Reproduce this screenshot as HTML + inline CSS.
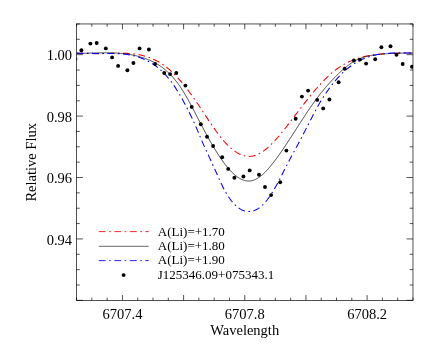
<!DOCTYPE html>
<html><head><meta charset="utf-8"><title>plot</title>
<style>
html,body{margin:0;padding:0;background:#fff;}
body{width:436px;height:349px;overflow:hidden;position:relative;font-family:"Liberation Serif",serif;color:#000;}
svg{position:absolute;left:0;top:0;}
text{font-family:"Liberation Serif",serif;fill:#000;}
</style></head><body>
<svg width="436" height="349" viewBox="0 0 436 349">
<defs><filter id="nf" x="0" y="0" width="436" height="349" filterUnits="userSpaceOnUse"><feOffset dx="0" dy="0"/></filter><clipPath id="c"><rect x="76.56" y="23.96" width="336.42" height="276.39"/></clipPath></defs>
<rect x="0" y="0" width="436" height="349" fill="#fff"/>

<g clip-path="url(#c)" fill="none">
<path d="M76.5,53.14 L77.5,53.16 L78.5,53.19 L79.5,53.22 L80.5,53.25 L81.5,53.28 L82.5,53.31 L83.5,53.34 L84.5,53.37 L85.5,53.41 L86.5,53.44 L87.5,53.47 L88.5,53.50 L89.5,53.52 L90.5,53.55 L91.5,53.57 L92.5,53.59 L93.5,53.61 L94.5,53.63 L95.5,53.64 L96.5,53.65 L97.5,53.65 L98.5,53.65 L99.5,53.65 L100.5,53.64 L101.5,53.63 L102.5,53.61 L103.5,53.59 L104.5,53.57 L105.5,53.54 L106.5,53.52 L107.5,53.49 L108.5,53.46 L109.5,53.43 L110.5,53.40 L111.5,53.37 L112.5,53.34 L113.5,53.31 L114.5,53.29 L115.5,53.26 L116.5,53.24 L117.5,53.23 L118.5,53.21 L119.5,53.21 L120.5,53.20 L121.5,53.21 L122.5,53.22 L123.5,53.23 L124.5,53.25 L125.5,53.28 L126.5,53.32 L127.5,53.37 L128.5,53.42 L129.5,53.49 L130.5,53.57 L131.5,53.65 L132.5,53.75 L133.5,53.86 L134.5,53.98 L135.5,54.11 L136.5,54.26 L137.5,54.42 L138.5,54.59 L139.5,54.78 L140.5,54.98 L141.5,55.20 L142.5,55.44 L143.5,55.69 L144.5,55.96 L145.5,56.24 L146.5,56.55 L147.5,56.87 L148.5,57.22 L149.5,57.58 L150.5,57.96 L151.5,58.36 L152.5,58.79 L153.5,59.23 L154.5,59.70 L155.5,60.19 L156.5,60.70 L157.5,61.24 L158.5,61.80 L159.5,62.39 L160.5,63.00 L161.5,63.63 L162.5,64.30 L163.5,64.99 L164.5,65.70 L165.5,66.45 L166.5,67.22 L167.5,68.02 L168.5,68.85 L169.5,69.71 L170.5,70.60 L171.5,71.51 L172.5,72.46 L173.5,73.43 L174.5,74.43 L175.5,75.45 L176.5,76.50 L177.5,77.58 L178.5,78.68 L179.5,79.80 L180.5,80.95 L181.5,82.12 L182.5,83.31 L183.5,84.53 L184.5,85.77 L185.5,87.02 L186.5,88.30 L187.5,89.60 L188.5,90.91 L189.5,92.25 L190.5,93.60 L191.5,94.97 L192.5,96.36 L193.5,97.77 L194.5,99.19 L195.5,100.62 L196.5,102.07 L197.5,103.54 L198.5,105.02 L199.5,106.51 L200.5,108.01 L201.5,109.51 L202.5,111.03 L203.5,112.54 L204.5,114.06 L205.5,115.58 L206.5,117.10 L207.5,118.61 L208.5,120.11 L209.5,121.61 L210.5,123.09 L211.5,124.57 L212.5,126.03 L213.5,127.47 L214.5,128.90 L215.5,130.31 L216.5,131.69 L217.5,133.05 L218.5,134.39 L219.5,135.70 L220.5,136.98 L221.5,138.22 L222.5,139.43 L223.5,140.61 L224.5,141.75 L225.5,142.85 L226.5,143.92 L227.5,144.95 L228.5,145.93 L229.5,146.88 L230.5,147.78 L231.5,148.65 L232.5,149.47 L233.5,150.25 L234.5,150.99 L235.5,151.68 L236.5,152.33 L237.5,152.93 L238.5,153.49 L239.5,154.00 L240.5,154.46 L241.5,154.88 L242.5,155.25 L243.5,155.56 L244.5,155.83 L245.5,156.05 L246.5,156.21 L247.5,156.33 L248.5,156.39 L249.5,156.40 L250.5,156.35 L251.5,156.26 L252.5,156.10 L253.5,155.89 L254.5,155.63 L255.5,155.31 L256.5,154.94 L257.5,154.52 L258.5,154.06 L259.5,153.54 L260.5,152.98 L261.5,152.38 L262.5,151.73 L263.5,151.04 L264.5,150.31 L265.5,149.54 L266.5,148.73 L267.5,147.89 L268.5,147.01 L269.5,146.09 L270.5,145.15 L271.5,144.17 L272.5,143.16 L273.5,142.13 L274.5,141.06 L275.5,139.97 L276.5,138.86 L277.5,137.73 L278.5,136.57 L279.5,135.39 L280.5,134.19 L281.5,132.98 L282.5,131.75 L283.5,130.50 L284.5,129.25 L285.5,127.97 L286.5,126.69 L287.5,125.40 L288.5,124.10 L289.5,122.80 L290.5,121.48 L291.5,120.17 L292.5,118.85 L293.5,117.53 L294.5,116.21 L295.5,114.89 L296.5,113.57 L297.5,112.26 L298.5,110.95 L299.5,109.64 L300.5,108.34 L301.5,107.04 L302.5,105.74 L303.5,104.45 L304.5,103.17 L305.5,101.90 L306.5,100.63 L307.5,99.37 L308.5,98.12 L309.5,96.88 L310.5,95.65 L311.5,94.44 L312.5,93.23 L313.5,92.03 L314.5,90.85 L315.5,89.68 L316.5,88.52 L317.5,87.38 L318.5,86.26 L319.5,85.15 L320.5,84.05 L321.5,82.98 L322.5,81.92 L323.5,80.88 L324.5,79.85 L325.5,78.85 L326.5,77.87 L327.5,76.90 L328.5,75.96 L329.5,75.04 L330.5,74.14 L331.5,73.27 L332.5,72.42 L333.5,71.59 L334.5,70.79 L335.5,70.01 L336.5,69.26 L337.5,68.53 L338.5,67.83 L339.5,67.15 L340.5,66.50 L341.5,65.86 L342.5,65.25 L343.5,64.66 L344.5,64.10 L345.5,63.55 L346.5,63.03 L347.5,62.52 L348.5,62.04 L349.5,61.57 L350.5,61.12 L351.5,60.69 L352.5,60.28 L353.5,59.88 L354.5,59.51 L355.5,59.14 L356.5,58.80 L357.5,58.47 L358.5,58.15 L359.5,57.85 L360.5,57.56 L361.5,57.29 L362.5,57.03 L363.5,56.78 L364.5,56.55 L365.5,56.32 L366.5,56.11 L367.5,55.91 L368.5,55.71 L369.5,55.53 L370.5,55.36 L371.5,55.19 L372.5,55.04 L373.5,54.89 L374.5,54.75 L375.5,54.62 L376.5,54.49 L377.5,54.37 L378.5,54.26 L379.5,54.16 L380.5,54.06 L381.5,53.96 L382.5,53.88 L383.5,53.79 L384.5,53.72 L385.5,53.65 L386.5,53.58 L387.5,53.52 L388.5,53.47 L389.5,53.42 L390.5,53.37 L391.5,53.33 L392.5,53.29 L393.5,53.25 L394.5,53.22 L395.5,53.19 L396.5,53.17 L397.5,53.15 L398.5,53.13 L399.5,53.11 L400.5,53.10 L401.5,53.09 L402.5,53.08 L403.5,53.07 L404.5,53.06 L405.5,53.06 L406.5,53.05 L407.5,53.05 L408.5,53.05 L409.5,53.05 L410.5,53.05 L411.5,53.05 L412.5,53.05" stroke="#ff0000" stroke-width="1.05" stroke-dasharray="6.9 3.5 1.6 3.5"/>
<path d="M76.5,53.44 L77.5,53.43 L78.5,53.42 L79.5,53.40 L80.5,53.38 L81.5,53.36 L82.5,53.33 L83.5,53.31 L84.5,53.28 L85.5,53.25 L86.5,53.22 L87.5,53.19 L88.5,53.16 L89.5,53.13 L90.5,53.09 L91.5,53.06 L92.5,53.03 L93.5,53.00 L94.5,52.97 L95.5,52.94 L96.5,52.92 L97.5,52.89 L98.5,52.87 L99.5,52.84 L100.5,52.83 L101.5,52.81 L102.5,52.80 L103.5,52.79 L104.5,52.78 L105.5,52.78 L106.5,52.78 L107.5,52.78 L108.5,52.79 L109.5,52.81 L110.5,52.83 L111.5,52.85 L112.5,52.88 L113.5,52.92 L114.5,52.96 L115.5,53.01 L116.5,53.06 L117.5,53.12 L118.5,53.19 L119.5,53.26 L120.5,53.35 L121.5,53.44 L122.5,53.54 L123.5,53.64 L124.5,53.76 L125.5,53.88 L126.5,54.02 L127.5,54.16 L128.5,54.31 L129.5,54.47 L130.5,54.64 L131.5,54.83 L132.5,55.02 L133.5,55.22 L134.5,55.44 L135.5,55.66 L136.5,55.90 L137.5,56.15 L138.5,56.41 L139.5,56.68 L140.5,56.97 L141.5,57.27 L142.5,57.58 L143.5,57.91 L144.5,58.24 L145.5,58.60 L146.5,58.96 L147.5,59.35 L148.5,59.75 L149.5,60.16 L150.5,60.60 L151.5,61.05 L152.5,61.53 L153.5,62.02 L154.5,62.54 L155.5,63.09 L156.5,63.65 L157.5,64.25 L158.5,64.87 L159.5,65.51 L160.5,66.19 L161.5,66.89 L162.5,67.63 L163.5,68.40 L164.5,69.19 L165.5,70.03 L166.5,70.89 L167.5,71.80 L168.5,72.73 L169.5,73.71 L170.5,74.72 L171.5,75.78 L172.5,76.87 L173.5,78.01 L174.5,79.18 L175.5,80.40 L176.5,81.67 L177.5,82.98 L178.5,84.34 L179.5,85.74 L180.5,87.19 L181.5,88.69 L182.5,90.25 L183.5,91.85 L184.5,93.50 L185.5,95.19 L186.5,96.92 L187.5,98.69 L188.5,100.48 L189.5,102.31 L190.5,104.17 L191.5,106.04 L192.5,107.93 L193.5,109.84 L194.5,111.76 L195.5,113.69 L196.5,115.62 L197.5,117.55 L198.5,119.48 L199.5,121.41 L200.5,123.33 L201.5,125.25 L202.5,127.15 L203.5,129.05 L204.5,130.93 L205.5,132.79 L206.5,134.63 L207.5,136.46 L208.5,138.26 L209.5,140.04 L210.5,141.79 L211.5,143.53 L212.5,145.24 L213.5,146.93 L214.5,148.59 L215.5,150.23 L216.5,151.84 L217.5,153.42 L218.5,154.98 L219.5,156.50 L220.5,157.99 L221.5,159.45 L222.5,160.87 L223.5,162.25 L224.5,163.60 L225.5,164.91 L226.5,166.18 L227.5,167.40 L228.5,168.58 L229.5,169.72 L230.5,170.80 L231.5,171.85 L232.5,172.84 L233.5,173.78 L234.5,174.66 L235.5,175.50 L236.5,176.28 L237.5,177.00 L238.5,177.67 L239.5,178.28 L240.5,178.83 L241.5,179.33 L242.5,179.76 L243.5,180.13 L244.5,180.43 L245.5,180.68 L246.5,180.86 L247.5,180.97 L248.5,181.01 L249.5,180.99 L250.5,180.90 L251.5,180.74 L252.5,180.50 L253.5,180.20 L254.5,179.82 L255.5,179.38 L256.5,178.87 L257.5,178.30 L258.5,177.67 L259.5,176.98 L260.5,176.23 L261.5,175.43 L262.5,174.58 L263.5,173.68 L264.5,172.73 L265.5,171.73 L266.5,170.70 L267.5,169.62 L268.5,168.50 L269.5,167.34 L270.5,166.15 L271.5,164.93 L272.5,163.68 L273.5,162.40 L274.5,161.10 L275.5,159.77 L276.5,158.43 L277.5,157.06 L278.5,155.67 L279.5,154.27 L280.5,152.85 L281.5,151.41 L282.5,149.96 L283.5,148.50 L284.5,147.02 L285.5,145.53 L286.5,144.03 L287.5,142.51 L288.5,140.99 L289.5,139.46 L290.5,137.92 L291.5,136.38 L292.5,134.83 L293.5,133.27 L294.5,131.71 L295.5,130.15 L296.5,128.59 L297.5,127.03 L298.5,125.47 L299.5,123.91 L300.5,122.35 L301.5,120.80 L302.5,119.26 L303.5,117.72 L304.5,116.19 L305.5,114.67 L306.5,113.16 L307.5,111.66 L308.5,110.17 L309.5,108.70 L310.5,107.24 L311.5,105.79 L312.5,104.37 L313.5,102.96 L314.5,101.57 L315.5,100.20 L316.5,98.85 L317.5,97.52 L318.5,96.21 L319.5,94.92 L320.5,93.65 L321.5,92.40 L322.5,91.16 L323.5,89.95 L324.5,88.75 L325.5,87.57 L326.5,86.40 L327.5,85.26 L328.5,84.13 L329.5,83.01 L330.5,81.91 L331.5,80.83 L332.5,79.76 L333.5,78.71 L334.5,77.68 L335.5,76.65 L336.5,75.65 L337.5,74.66 L338.5,73.68 L339.5,72.73 L340.5,71.79 L341.5,70.87 L342.5,69.98 L343.5,69.10 L344.5,68.25 L345.5,67.42 L346.5,66.62 L347.5,65.84 L348.5,65.09 L349.5,64.37 L350.5,63.67 L351.5,63.00 L352.5,62.37 L353.5,61.76 L354.5,61.19 L355.5,60.65 L356.5,60.13 L357.5,59.65 L358.5,59.20 L359.5,58.77 L360.5,58.37 L361.5,57.99 L362.5,57.64 L363.5,57.31 L364.5,57.00 L365.5,56.71 L366.5,56.45 L367.5,56.20 L368.5,55.97 L369.5,55.76 L370.5,55.56 L371.5,55.37 L372.5,55.21 L373.5,55.05 L374.5,54.90 L375.5,54.77 L376.5,54.64 L377.5,54.53 L378.5,54.42 L379.5,54.31 L380.5,54.22 L381.5,54.12 L382.5,54.04 L383.5,53.96 L384.5,53.88 L385.5,53.80 L386.5,53.74 L387.5,53.67 L388.5,53.61 L389.5,53.56 L390.5,53.50 L391.5,53.45 L392.5,53.41 L393.5,53.37 L394.5,53.33 L395.5,53.29 L396.5,53.26 L397.5,53.23 L398.5,53.20 L399.5,53.18 L400.5,53.16 L401.5,53.14 L402.5,53.12 L403.5,53.10 L404.5,53.09 L405.5,53.08 L406.5,53.07 L407.5,53.06 L408.5,53.05 L409.5,53.04 L410.5,53.04 L411.5,53.03 L412.5,53.03" stroke="#000" stroke-width="0.7"/>
<path d="M76.5,53.12 L77.5,53.13 L78.5,53.15 L79.5,53.16 L80.5,53.18 L81.5,53.20 L82.5,53.21 L83.5,53.23 L84.5,53.25 L85.5,53.27 L86.5,53.29 L87.5,53.30 L88.5,53.32 L89.5,53.34 L90.5,53.36 L91.5,53.37 L92.5,53.39 L93.5,53.40 L94.5,53.42 L95.5,53.43 L96.5,53.44 L97.5,53.45 L98.5,53.45 L99.5,53.46 L100.5,53.46 L101.5,53.46 L102.5,53.46 L103.5,53.45 L104.5,53.45 L105.5,53.45 L106.5,53.45 L107.5,53.45 L108.5,53.45 L109.5,53.45 L110.5,53.46 L111.5,53.47 L112.5,53.48 L113.5,53.50 L114.5,53.52 L115.5,53.55 L116.5,53.59 L117.5,53.63 L118.5,53.68 L119.5,53.74 L120.5,53.81 L121.5,53.89 L122.5,53.97 L123.5,54.07 L124.5,54.17 L125.5,54.29 L126.5,54.42 L127.5,54.56 L128.5,54.72 L129.5,54.89 L130.5,55.07 L131.5,55.27 L132.5,55.48 L133.5,55.71 L134.5,55.96 L135.5,56.22 L136.5,56.50 L137.5,56.80 L138.5,57.11 L139.5,57.45 L140.5,57.80 L141.5,58.18 L142.5,58.57 L143.5,58.99 L144.5,59.43 L145.5,59.89 L146.5,60.38 L147.5,60.89 L148.5,61.42 L149.5,61.98 L150.5,62.56 L151.5,63.17 L152.5,63.81 L153.5,64.47 L154.5,65.16 L155.5,65.88 L156.5,66.62 L157.5,67.40 L158.5,68.20 L159.5,69.04 L160.5,69.92 L161.5,70.82 L162.5,71.77 L163.5,72.75 L164.5,73.77 L165.5,74.83 L166.5,75.93 L167.5,77.07 L168.5,78.26 L169.5,79.49 L170.5,80.76 L171.5,82.09 L172.5,83.46 L173.5,84.88 L174.5,86.35 L175.5,87.87 L176.5,89.42 L177.5,91.02 L178.5,92.66 L179.5,94.34 L180.5,96.06 L181.5,97.81 L182.5,99.60 L183.5,101.42 L184.5,103.27 L185.5,105.15 L186.5,107.06 L187.5,108.99 L188.5,110.96 L189.5,112.95 L190.5,114.98 L191.5,117.05 L192.5,119.15 L193.5,121.30 L194.5,123.49 L195.5,125.73 L196.5,128.02 L197.5,130.36 L198.5,132.75 L199.5,135.17 L200.5,137.59 L201.5,139.99 L202.5,142.36 L203.5,144.66 L204.5,146.89 L205.5,149.05 L206.5,151.19 L207.5,153.32 L208.5,155.46 L209.5,157.62 L210.5,159.79 L211.5,161.97 L212.5,164.17 L213.5,166.37 L214.5,168.59 L215.5,170.81 L216.5,173.03 L217.5,175.26 L218.5,177.50 L219.5,179.73 L220.5,181.93 L221.5,184.09 L222.5,186.18 L223.5,188.18 L224.5,190.09 L225.5,191.91 L226.5,193.63 L227.5,195.27 L228.5,196.83 L229.5,198.29 L230.5,199.68 L231.5,200.98 L232.5,202.20 L233.5,203.33 L234.5,204.39 L235.5,205.38 L236.5,206.28 L237.5,207.11 L238.5,207.87 L239.5,208.55 L240.5,209.17 L241.5,209.71 L242.5,210.18 L243.5,210.59 L244.5,210.93 L245.5,211.19 L246.5,211.39 L247.5,211.52 L248.5,211.58 L249.5,211.57 L250.5,211.50 L251.5,211.35 L252.5,211.13 L253.5,210.85 L254.5,210.49 L255.5,210.06 L256.5,209.57 L257.5,209.00 L258.5,208.37 L259.5,207.66 L260.5,206.89 L261.5,206.04 L262.5,205.12 L263.5,204.14 L264.5,203.08 L265.5,201.95 L266.5,200.75 L267.5,199.48 L268.5,198.14 L269.5,196.73 L270.5,195.25 L271.5,193.70 L272.5,192.10 L273.5,190.44 L274.5,188.73 L275.5,186.97 L276.5,185.17 L277.5,183.34 L278.5,181.47 L279.5,179.57 L280.5,177.65 L281.5,175.71 L282.5,173.75 L283.5,171.78 L284.5,169.81 L285.5,167.84 L286.5,165.87 L287.5,163.90 L288.5,161.95 L289.5,160.01 L290.5,158.10 L291.5,156.21 L292.5,154.34 L293.5,152.49 L294.5,150.65 L295.5,148.82 L296.5,146.98 L297.5,145.14 L298.5,143.29 L299.5,141.42 L300.5,139.53 L301.5,137.63 L302.5,135.71 L303.5,133.77 L304.5,131.83 L305.5,129.88 L306.5,127.93 L307.5,125.97 L308.5,124.01 L309.5,122.05 L310.5,120.10 L311.5,118.16 L312.5,116.22 L313.5,114.30 L314.5,112.39 L315.5,110.51 L316.5,108.65 L317.5,106.83 L318.5,105.05 L319.5,103.32 L320.5,101.63 L321.5,99.98 L322.5,98.37 L323.5,96.80 L324.5,95.26 L325.5,93.76 L326.5,92.30 L327.5,90.86 L328.5,89.45 L329.5,88.08 L330.5,86.73 L331.5,85.42 L332.5,84.14 L333.5,82.89 L334.5,81.66 L335.5,80.47 L336.5,79.31 L337.5,78.18 L338.5,77.08 L339.5,76.01 L340.5,74.97 L341.5,73.96 L342.5,72.98 L343.5,72.03 L344.5,71.11 L345.5,70.22 L346.5,69.36 L347.5,68.53 L348.5,67.73 L349.5,66.96 L350.5,66.22 L351.5,65.50 L352.5,64.81 L353.5,64.14 L354.5,63.50 L355.5,62.89 L356.5,62.30 L357.5,61.73 L358.5,61.19 L359.5,60.67 L360.5,60.17 L361.5,59.69 L362.5,59.23 L363.5,58.80 L364.5,58.38 L365.5,57.99 L366.5,57.61 L367.5,57.25 L368.5,56.91 L369.5,56.59 L370.5,56.28 L371.5,55.99 L372.5,55.72 L373.5,55.46 L374.5,55.22 L375.5,55.00 L376.5,54.79 L377.5,54.59 L378.5,54.41 L379.5,54.24 L380.5,54.08 L381.5,53.94 L382.5,53.80 L383.5,53.68 L384.5,53.57 L385.5,53.47 L386.5,53.38 L387.5,53.30 L388.5,53.23 L389.5,53.17 L390.5,53.12 L391.5,53.07 L392.5,53.04 L393.5,53.00 L394.5,52.98 L395.5,52.96 L396.5,52.95 L397.5,52.94 L398.5,52.94 L399.5,52.94 L400.5,52.95 L401.5,52.96 L402.5,52.97 L403.5,52.98 L404.5,53.00 L405.5,53.02 L406.5,53.04 L407.5,53.06 L408.5,53.08 L409.5,53.10 L410.5,53.12 L411.5,53.14 L412.5,53.16" stroke="#0000ff" stroke-width="1.05" stroke-dasharray="6.9 3.5 1.6 3.5"/>
<circle cx="75.4" cy="59.0" r="1.95" fill="#000" stroke="none"/>
<circle cx="81.4" cy="50.3" r="1.95" fill="#000" stroke="none"/>
<circle cx="90.4" cy="43.6" r="1.95" fill="#000" stroke="none"/>
<circle cx="96.7" cy="43.0" r="1.95" fill="#000" stroke="none"/>
<circle cx="105.8" cy="48.4" r="1.95" fill="#000" stroke="none"/>
<circle cx="112.1" cy="57.4" r="1.95" fill="#000" stroke="none"/>
<circle cx="118.1" cy="65.9" r="1.95" fill="#000" stroke="none"/>
<circle cx="127.4" cy="70.3" r="1.95" fill="#000" stroke="none"/>
<circle cx="133.4" cy="63.0" r="1.95" fill="#000" stroke="none"/>
<circle cx="139.6" cy="48.4" r="1.95" fill="#000" stroke="none"/>
<circle cx="148.9" cy="49.5" r="1.95" fill="#000" stroke="none"/>
<circle cx="155.1" cy="64.0" r="1.95" fill="#000" stroke="none"/>
<circle cx="164.2" cy="73.0" r="1.95" fill="#000" stroke="none"/>
<circle cx="170.1" cy="74.1" r="1.95" fill="#000" stroke="none"/>
<circle cx="176.3" cy="73.0" r="1.95" fill="#000" stroke="none"/>
<circle cx="185.4" cy="85.6" r="1.95" fill="#000" stroke="none"/>
<circle cx="191.7" cy="106.9" r="1.95" fill="#000" stroke="none"/>
<circle cx="200.8" cy="124.3" r="1.95" fill="#000" stroke="none"/>
<circle cx="207.0" cy="136.7" r="1.95" fill="#000" stroke="none"/>
<circle cx="213.1" cy="146.0" r="1.95" fill="#000" stroke="none"/>
<circle cx="222.2" cy="157.2" r="1.95" fill="#000" stroke="none"/>
<circle cx="228.2" cy="168.9" r="1.95" fill="#000" stroke="none"/>
<circle cx="234.4" cy="177.7" r="1.95" fill="#000" stroke="none"/>
<circle cx="243.4" cy="176.5" r="1.95" fill="#000" stroke="none"/>
<circle cx="249.7" cy="170.4" r="1.95" fill="#000" stroke="none"/>
<circle cx="259.0" cy="174.8" r="1.95" fill="#000" stroke="none"/>
<circle cx="265.0" cy="187.0" r="1.95" fill="#000" stroke="none"/>
<circle cx="271.1" cy="195.1" r="1.95" fill="#000" stroke="none"/>
<circle cx="280.2" cy="182.2" r="1.95" fill="#000" stroke="none"/>
<circle cx="286.4" cy="150.6" r="1.95" fill="#000" stroke="none"/>
<circle cx="295.7" cy="118.7" r="1.95" fill="#000" stroke="none"/>
<circle cx="301.9" cy="96.6" r="1.95" fill="#000" stroke="none"/>
<circle cx="308.1" cy="90.6" r="1.95" fill="#000" stroke="none"/>
<circle cx="317.2" cy="99.9" r="1.95" fill="#000" stroke="none"/>
<circle cx="323.2" cy="108.4" r="1.95" fill="#000" stroke="none"/>
<circle cx="329.4" cy="99.5" r="1.95" fill="#000" stroke="none"/>
<circle cx="338.6" cy="82.2" r="1.95" fill="#000" stroke="none"/>
<circle cx="344.7" cy="68.7" r="1.95" fill="#000" stroke="none"/>
<circle cx="353.9" cy="60.5" r="1.95" fill="#000" stroke="none"/>
<circle cx="359.9" cy="59.6" r="1.95" fill="#000" stroke="none"/>
<circle cx="366.1" cy="63.6" r="1.95" fill="#000" stroke="none"/>
<circle cx="375.2" cy="59.2" r="1.95" fill="#000" stroke="none"/>
<circle cx="381.4" cy="47.3" r="1.95" fill="#000" stroke="none"/>
<circle cx="390.5" cy="46.2" r="1.95" fill="#000" stroke="none"/>
<circle cx="396.5" cy="54.7" r="1.95" fill="#000" stroke="none"/>
<circle cx="402.7" cy="64.0" r="1.95" fill="#000" stroke="none"/>
<circle cx="412.0" cy="66.7" r="1.95" fill="#000" stroke="none"/>
</g>
<rect x="76.56" y="23.96" width="336.42" height="276.39" stroke="#000" stroke-width="0.68" fill="none"/>
<path d="M76.56,300.35 v-2.7 M76.56,23.96 v2.7 M91.85,300.35 v-2.7 M91.85,23.96 v2.7 M107.14,300.35 v-2.7 M107.14,23.96 v2.7 M122.44,300.35 v-5.3 M122.44,23.96 v5.3 M137.73,300.35 v-2.7 M137.73,23.96 v2.7 M153.02,300.35 v-2.7 M153.02,23.96 v2.7 M168.31,300.35 v-2.7 M168.31,23.96 v2.7 M183.60,300.35 v-5.3 M183.60,23.96 v5.3 M198.89,300.35 v-2.7 M198.89,23.96 v2.7 M214.19,300.35 v-2.7 M214.19,23.96 v2.7 M229.48,300.35 v-2.7 M229.48,23.96 v2.7 M244.77,300.35 v-5.3 M244.77,23.96 v5.3 M260.06,300.35 v-2.7 M260.06,23.96 v2.7 M275.35,300.35 v-2.7 M275.35,23.96 v2.7 M290.65,300.35 v-2.7 M290.65,23.96 v2.7 M305.94,300.35 v-5.3 M305.94,23.96 v5.3 M321.23,300.35 v-2.7 M321.23,23.96 v2.7 M336.52,300.35 v-2.7 M336.52,23.96 v2.7 M351.81,300.35 v-2.7 M351.81,23.96 v2.7 M367.10,300.35 v-5.3 M367.10,23.96 v5.3 M382.40,300.35 v-2.7 M382.40,23.96 v2.7 M397.69,300.35 v-2.7 M397.69,23.96 v2.7 M412.98,300.35 v-2.7 M412.98,23.96 v2.7 M76.56,300.35 h6.4 M412.98,300.35 h-6.4 M76.56,284.99 h3.2 M412.98,284.99 h-3.2 M76.56,269.64 h3.2 M412.98,269.64 h-3.2 M76.56,254.28 h3.2 M412.98,254.28 h-3.2 M76.56,238.93 h6.4 M412.98,238.93 h-6.4 M76.56,223.57 h3.2 M412.98,223.57 h-3.2 M76.56,208.22 h3.2 M412.98,208.22 h-3.2 M76.56,192.86 h3.2 M412.98,192.86 h-3.2 M76.56,177.51 h6.4 M412.98,177.51 h-6.4 M76.56,162.15 h3.2 M412.98,162.15 h-3.2 M76.56,146.80 h3.2 M412.98,146.80 h-3.2 M76.56,131.44 h3.2 M412.98,131.44 h-3.2 M76.56,116.09 h6.4 M412.98,116.09 h-6.4 M76.56,100.73 h3.2 M412.98,100.73 h-3.2 M76.56,85.38 h3.2 M412.98,85.38 h-3.2 M76.56,70.03 h3.2 M412.98,70.03 h-3.2 M76.56,54.67 h6.4 M412.98,54.67 h-6.4 M76.56,39.31 h3.2 M412.98,39.31 h-3.2 M76.56,23.96 h3.2 M412.98,23.96 h-3.2" stroke="#000" stroke-width="0.68" fill="none"/>
<g filter="url(#nf)">
<text x="122.44" y="319.0" font-size="14.5" text-anchor="middle">6707.4</text>
<text x="244.77" y="319.0" font-size="14.5" text-anchor="middle">6707.8</text>
<text x="367.10" y="319.0" font-size="14.5" text-anchor="middle">6708.2</text>
<text x="72.0" y="60.27" font-size="14.5" text-anchor="end">1.00</text>
<text x="72.0" y="121.69" font-size="14.5" text-anchor="end">0.98</text>
<text x="72.0" y="183.11" font-size="14.5" text-anchor="end">0.96</text>
<text x="72.0" y="244.53" font-size="14.5" text-anchor="end">0.94</text>
<text x="244.7" y="334.8" font-size="14.5" text-anchor="middle">Wavelength</text>
<text transform="translate(36.2,162.3) rotate(-90)" font-size="14.5" text-anchor="middle">Relative Flux</text>
<path d="M98.8,231.6 H148.7" stroke="#ff0000" stroke-width="0.85" stroke-dasharray="6.9 3.5 1.6 3.5" fill="none"/>
<path d="M98.8,246.3 H148.7" stroke="#000" stroke-width="0.6" fill="none"/>
<path d="M98.8,260.6 H148.7" stroke="#0000ff" stroke-width="0.85" stroke-dasharray="6.9 3.5 1.6 3.5" fill="none"/>
<circle cx="123.6" cy="275.1" r="1.95" fill="#000"/>
<text x="157.8" y="235.90" font-size="13.0">A(Li)=+1.70</text>
<text x="157.8" y="250.10" font-size="13.0">A(Li)=+1.80</text>
<text x="157.8" y="264.30" font-size="13.0">A(Li)=+1.90</text>
<text x="157.8" y="278.50" font-size="13.0">J125346.09+075343.1</text>
</g>
</svg></body></html>
